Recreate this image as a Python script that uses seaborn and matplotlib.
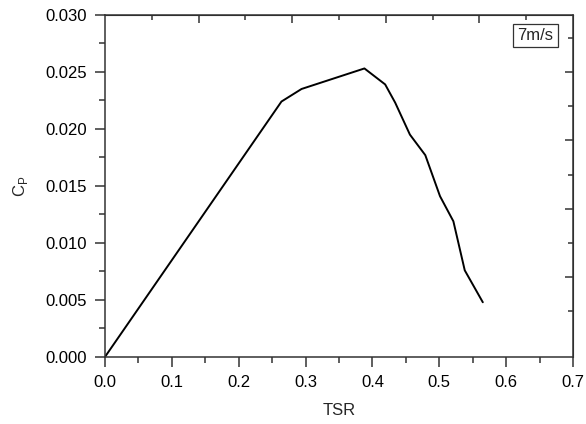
import matplotlib
matplotlib.use("Agg")
import matplotlib.pyplot as plt
import seaborn as sns
import pandas as pd
from matplotlib.ticker import MultipleLocator, FixedLocator

# data (7 m/s)
tsr = [0.0, 0.264, 0.294, 0.388, 0.419, 0.434, 0.456, 0.479, 0.501, 0.521, 0.538, 0.565]
cp = [0.0, 0.0224, 0.0235, 0.0253, 0.0239, 0.0223, 0.0195, 0.0177, 0.0141, 0.0119, 0.0076, 0.0048]
label = "7m/s"

sns.set_style("ticks")
plt.rcParams['font.family'] = ['Liberation Sans', 'DejaVu Sans']
plt.rcParams['font.size'] = 12

df = pd.DataFrame({"TSR": tsr, "Cp": cp})

fig = plt.figure(figsize=(5.86, 4.24), dpi=100)
ax = fig.add_axes([0.179, 0.158, 0.799, 0.807])
sns.lineplot(data=df, x="TSR", y="Cp", color="black", linewidth=1.4, ax=ax, sort=False)

ax.set_xlim(0, 0.7)
ax.set_ylim(0, 0.030)
ax.xaxis.set_major_locator(MultipleLocator(0.1))
ax.xaxis.set_minor_locator(MultipleLocator(0.05))
ax.yaxis.set_major_locator(MultipleLocator(0.005))
ax.yaxis.set_minor_locator(MultipleLocator(0.0025))
ax.xaxis.set_major_formatter(plt.FuncFormatter(lambda v, p: f"{v:.1f}"))
ax.yaxis.set_major_formatter(plt.FuncFormatter(lambda v, p: f"{v:.3f}"))

for s in ax.spines.values():
    s.set_visible(True)
    s.set_linewidth(1.1)
    s.set_color("#333333")

ax.tick_params(which="both", direction="out", colors="#333333", labelcolor="black",
               labelsize=12, width=1.1)
ax.tick_params(axis="x", which="major", length=7, pad=6)
ax.tick_params(axis="y", which="major", length=7, pad=6)
ax.tick_params(which="minor", length=4)

# inward ticks on top and right (own spacing), no labels
top = ax.secondary_xaxis("top")
top.xaxis.set_major_locator(FixedLocator([0.14, 0.28, 0.42, 0.56]))
top.xaxis.set_minor_locator(FixedLocator([0.07, 0.21, 0.35, 0.49, 0.63]))
top.tick_params(which="both", direction="in", labeltop=False, colors="#333333", width=1.1)
top.tick_params(which="major", length=6)
top.tick_params(which="minor", length=3.5)
right = ax.secondary_yaxis("right")
right.yaxis.set_major_locator(FixedLocator([0.007, 0.013, 0.019, 0.025]))
right.yaxis.set_minor_locator(FixedLocator([0.004, 0.010, 0.016, 0.022, 0.028]))
right.tick_params(which="both", direction="in", labelright=False, colors="#333333", width=1.1)
right.tick_params(which="major", length=6)
right.tick_params(which="minor", length=3.5)

ax.set_xlabel("TSR", fontsize=12, labelpad=9)
ax.set_ylabel(r"C$_\mathregular{P}$", fontsize=12, labelpad=11)

ax.text(0.958, 0.962, label, transform=ax.transAxes, ha="right", va="top", fontsize=12,
        bbox=dict(boxstyle="square,pad=0.25", facecolor="white", edgecolor="#333333", linewidth=0.9))

fig.savefig("out.png", dpi=100)
